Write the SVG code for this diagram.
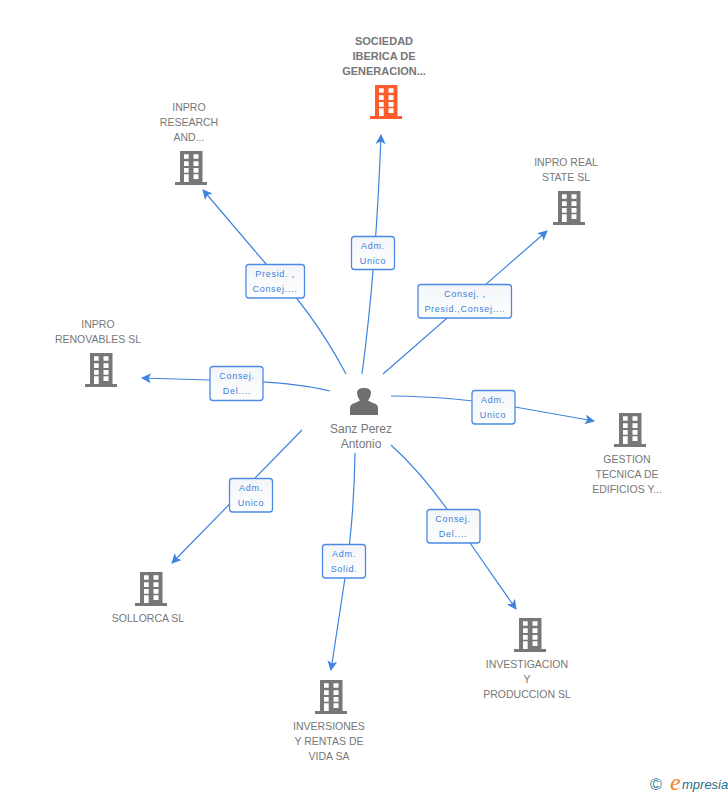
<svg xmlns="http://www.w3.org/2000/svg" width="728" height="795" viewBox="0 0 728 795">
<style>
text{font-family:"Liberation Sans",Arial,sans-serif}
.n{font-size:10.5px;fill:#777;text-anchor:middle}
.t{font-weight:bold;font-size:11px}
.p{font-size:12px}
.l{font-size:9px;fill:#3a7fdc;text-anchor:middle;letter-spacing:.7px}
.c{fill:none;stroke:#3f83df;stroke-width:1.2;marker-end:url(#a)}
.b{fill:url(#g);stroke:#4a8ae6;stroke-width:1.3}
</style>
<defs>
<linearGradient id="g" x1="0" y1="0" x2="0" y2="1"><stop offset="0" stop-color="#f3f5f8"/><stop offset="1" stop-color="#fff"/></linearGradient>
<marker id="a" viewBox="0 0 10 10" refX="9" refY="5" markerWidth="10" markerHeight="10" markerUnits="userSpaceOnUse" orient="auto"><path d="M0 0L10 5L0 10L2.5 5Z" fill="#3f83df"/></marker>
<g id="bld">
<path d="M5 0H27.5V31H32V34H0V31H5Z"/>
<path fill="#fff" d="M9 3.3h4.7v4.4H9zM18.5 3.3h5v4.4h-5zM9 10.3h4.7V15H9zM18.5 10.3h5V15h-5zM9 17h4.7v4.7H9zM18.5 17h5v4.7h-5zM9 23.3h4.7V31H9zM18.5 23.3h5V28h-5z"/>
</g>
</defs>
<rect width="728" height="795" fill="#fff"/>
<g id="connectors">
<path class="c" d="M362 374Q376 270 381 135"/>
<path class="c" d="M346 374Q312 310 266 264L203 190"/>
<path class="c" d="M383 374L547 231"/>
<path class="c" d="M330 391Q290 381 210 380L142 378"/>
<path class="c" d="M391 396Q460 397 515 407L594 421"/>
<path class="c" d="M302 430L172 563"/>
<path class="c" d="M355 453Q354 520 345 578L331 670"/>
<path class="c" d="M391 445Q430 480 470 543L516 609"/>
</g>
<g id="labels">
<g><rect class="b" x="351.500" y="236.500" width="43" height="33" rx="3"/><text class="l" x="373" y="249">Adm.</text><text class="l" x="373" y="264">Unico</text></g>
<g><rect class="b" x="246" y="264.500" width="58.500" height="33.500" rx="3"/><text class="l" x="275" y="277">Presid. ,</text><text class="l" x="275" y="292">Consej....</text></g>
<g><rect class="b" x="418" y="284.500" width="93.500" height="33.500" rx="3"/><text class="l" x="465" y="297">Consej. ,</text><text class="l" x="465" y="312">Presid.,Consej....</text></g>
<g><rect class="b" x="210" y="366.500" width="53" height="34" rx="3"/><text class="l" x="237" y="379">Consej.</text><text class="l" x="237" y="394">Del....</text></g>
<g><rect class="b" x="472" y="390.500" width="43" height="33.500" rx="3"/><text class="l" x="493" y="403">Adm.</text><text class="l" x="493" y="418">Unico</text></g>
<g><rect class="b" x="229.500" y="478.500" width="43" height="33.500" rx="3"/><text class="l" x="251" y="491">Adm.</text><text class="l" x="251" y="506">Unico</text></g>
<g><rect class="b" x="427" y="509.500" width="53" height="33.500" rx="3"/><text class="l" x="453" y="522">Consej.</text><text class="l" x="453" y="537">Del....</text></g>
<g><rect class="b" x="322.500" y="544.500" width="43" height="33.500" rx="3"/><text class="l" x="344" y="557">Adm.</text><text class="l" x="344" y="572">Solid.</text></g>
</g>
<g id="n-sociedad"><text class="n t" x="384" y="45">SOCIEDAD</text><text class="n t" x="384" y="60">IBERICA DE</text><text class="n t" x="384" y="75">GENERACION...</text><use href="#bld" x="370" y="85" fill="#ff5c2e"/></g>
<g id="n-research"><text class="n" x="189" y="111">INPRO</text><text class="n" x="189" y="126">RESEARCH</text><text class="n" x="189" y="141">AND...</text><use href="#bld" x="175" y="151" fill="#777"/></g>
<g id="n-state"><text class="n" x="566" y="166">INPRO REAL</text><text class="n" x="566" y="181">STATE SL</text><use href="#bld" x="553" y="191" fill="#777"/></g>
<g id="n-renovables"><text class="n" x="98" y="328">INPRO</text><text class="n" x="98" y="343">RENOVABLES SL</text><use href="#bld" x="85" y="353" fill="#777"/></g>
<g id="n-gestion"><use href="#bld" x="614" y="413" fill="#777"/><text class="n" x="627" y="463">GESTION</text><text class="n" x="627" y="478">TECNICA DE</text><text class="n" x="627" y="493">EDIFICIOS Y...</text></g>
<g id="n-sollorca"><use href="#bld" x="135" y="572" fill="#777"/><text class="n" x="148" y="622">SOLLORCA SL</text></g>
<g id="n-inversiones"><use href="#bld" x="315" y="680" fill="#777"/><text class="n" x="329" y="730">INVERSIONES</text><text class="n" x="329" y="745">Y RENTAS DE</text><text class="n" x="329" y="760">VIDA SA</text></g>
<g id="n-investigacion"><use href="#bld" x="514" y="618" fill="#777"/><text class="n" x="527" y="668">INVESTIGACION</text><text class="n" x="527" y="683">Y</text><text class="n" x="527" y="698">PRODUCCION SL</text></g>
<g id="n-sanz">
<path fill="#6f6f6f" d="M350 415V408Q350 404 355 403L360 400.500Q357 397 357 393Q357 388 364 388Q371 388 371 393Q371 397 368 400.500L373 403Q378 404 378 408V415Z"/>
<text class="n p" x="361" y="433">Sanz Perez</text><text class="n p" x="361" y="448">Antonio</text>
</g>
<g id="logo">
<text x="650" y="790" font-size="16" fill="#2f7a8c">©</text>
<text x="670" y="790" font-size="24" font-style="italic" fill="#f08020" style="font-family:'Liberation Serif',serif">e</text>
<text x="682" y="789" font-size="13" font-style="italic" fill="#1f6f85">mpresia</text>
</g>
</svg>
